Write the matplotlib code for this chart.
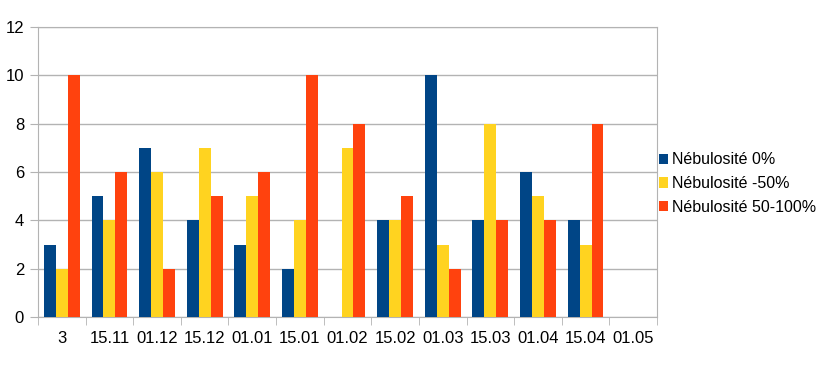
import numpy as np
import matplotlib
matplotlib.use("Agg")
import matplotlib.pyplot as plt

plt.rcParams['font.family'] = ['Liberation Sans', 'DejaVu Sans']

categories = ["3", "15.11", "01.12", "15.12", "01.01", "15.01", "01.02",
              "15.02", "01.03", "15.03", "01.04", "15.04", "01.05"]
neb_0 = [3, 5, 7, 4, 3, 2, 0, 4, 10, 4, 6, 4, 0]
neb_50 = [2, 4, 6, 7, 5, 4, 7, 4, 3, 8, 5, 3, 0]
neb_100 = [10, 6, 2, 5, 6, 10, 8, 5, 2, 4, 4, 8, 0]
labels = ["Nébulosité 0%", "Nébulosité -50%", "Nébulosité 50-100%"]
colors = ["#004586", "#ffd320", "#ff420e"]

fig = plt.figure(figsize=(8.34, 3.92), dpi=100)
ax = fig.add_axes([38 / 834, 75 / 392, 619 / 834, 290 / 392])

x = np.arange(len(categories))
w = 0.25
for i, (vals, lab, col) in enumerate(zip([neb_0, neb_50, neb_100], labels, colors)):
    ax.bar(x + (i - 1) * w, vals, width=w, color=col, label=lab, zorder=3)

ax.set_xlim(-0.5, len(categories) - 0.5)
ax.set_ylim(0, 12)
ax.set_yticks(range(0, 13, 2))
ax.yaxis.grid(True, color="#b3b3b3", linewidth=1, zorder=0)
ax.set_xticks(x)
ax.set_xticklabels(categories)
ax.set_xticks(np.arange(-0.5, len(categories), 1), minor=True)
ax.tick_params(axis="x", which="major", length=0, pad=10, labelsize=12)
ax.tick_params(axis="x", which="minor", length=6, color="#b3b3b3")
ax.tick_params(axis="y", length=6, color="#b3b3b3", labelsize=12, pad=4)
for s in ax.spines.values():
    s.set_color("#b3b3b3")

ax.legend(loc="center left", bbox_to_anchor=(1.0, 0.46), frameon=False,
          fontsize=11.5, handlelength=0.6, handleheight=0.6,
          handletextpad=0.25, labelspacing=0.55, borderaxespad=0.0,
          borderpad=0.1)

fig.savefig("out.png", dpi=100)
